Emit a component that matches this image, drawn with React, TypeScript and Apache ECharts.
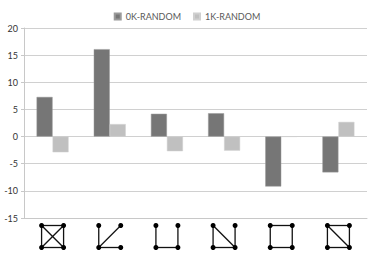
import React, { useEffect, useRef } from "react";
import * as echarts from "echarts";

const categories = ["K4", "star", "path", "tailed", "cycle", "diamond"];
const seriesNames = ["0K-RANDOM", "1K-RANDOM"];
const zeroK = [7.3, 16.1, 4.2, 4.3, -9.2, -6.6];
const oneK = [-2.9, 2.3, -2.7, -2.6, 0, 2.7];
const yTicks = [-15, -10, -5, 0, 5, 10, 15, 20];
// nodes: 0=TL 1=TR 2=BL 3=BR
const iconEdges: number[][][] = [
  [[0, 1], [1, 3], [3, 2], [2, 0], [0, 3], [1, 2]],
  [[2, 0], [2, 3], [2, 1]],
  [[0, 2], [2, 3], [3, 1]],
  [[0, 2], [0, 3], [1, 3], [2, 3]],
  [[0, 1], [1, 3], [3, 2], [2, 0]],
  [[0, 1], [1, 3], [3, 2], [2, 0], [0, 3]],
];

const FONT = "Lato, 'Open Sans', sans-serif";

export default function App() {
  const ref = useRef<HTMLDivElement>(null);
  useEffect(() => {
    if (!ref.current) return;
    const chart = echarts.init(ref.current, undefined, { renderer: "svg" });
    const yMin = yTicks[0];
    const yMax = yTicks[yTicks.length - 1];
    chart.setOption({
      animation: false,
      textStyle: { fontFamily: FONT },
      legend: {
        data: seriesNames,
        top: 7,
        left: "center",
        itemWidth: 6,
        itemHeight: 6,
        itemGap: 12,
        icon: "rect",
        textStyle: { fontSize: 9, color: "#595959", fontFamily: FONT },
      },
      grid: { left: 24, right: 7, top: 28, bottom: 62, containLabel: false },
      xAxis: {
        type: "category",
        data: categories,
        axisLine: { show: true, onZero: false, lineStyle: { color: "#c8c8c8" } },
        axisTick: { show: false },
        axisLabel: { show: false },
      },
      yAxis: {
        type: "value",
        min: yMin,
        max: yMax,
        interval: 5,
        axisLine: { show: true, lineStyle: { color: "#c8c8c8" } },
        axisTick: { show: true, length: 3, lineStyle: { color: "#c8c8c8" } },
        axisLabel: { fontSize: 9, color: "#333", margin: 6, fontFamily: FONT },
        splitLine: { lineStyle: { color: "#d0d0d0" } },
      },
      series: [
        {
          name: seriesNames[0],
          type: "bar",
          data: zeroK,
          barWidth: 16,
          barGap: "0%",
          itemStyle: { color: "#767676", borderColor: "#9a9a9a", borderWidth: 0.5 },
        },
        {
          name: seriesNames[1],
          type: "bar",
          data: oneK,
          barWidth: 16,
          barGap: "0%",
          itemStyle: { color: "#c0c0c0", borderColor: "#d0d0d0", borderWidth: 0.5 },
        },
        {
          name: "icons",
          type: "custom",
          silent: true,
          clip: false,
          data: categories.map((_, i) => [i, yMin]),
          encode: { x: 0, y: 1 },
          renderItem: (params: any, api: any) => {
            const idx = api.value(0);
            const p = api.coord([idx, yMin]);
            const cx = p[0];
            const cy = p[1] + 18.5;
            const h = 11;
            const nodes = [
              [cx - h, cy - h],
              [cx + h, cy - h],
              [cx - h, cy + h],
              [cx + h, cy + h],
            ];
            const children: any[] = [];
            iconEdges[idx].forEach(([a, b]) => {
              children.push({
                type: "line",
                shape: { x1: nodes[a][0], y1: nodes[a][1], x2: nodes[b][0], y2: nodes[b][1] },
                style: { stroke: "#111", lineWidth: 1.3 },
              });
            });
            nodes.forEach((n) => {
              children.push({
                type: "circle",
                shape: { cx: n[0], cy: n[1], r: 2.5 },
                style: { fill: "#000" },
              });
            });
            return { type: "group", children };
          },
        },
      ],
    });
    return () => chart.dispose();
  }, []);
  return (
    <div
      ref={ref}
      style={{ position: "absolute", left: 0, top: 0, width: 374, height: 280, background: "#fff" }}
    />
  );
}
